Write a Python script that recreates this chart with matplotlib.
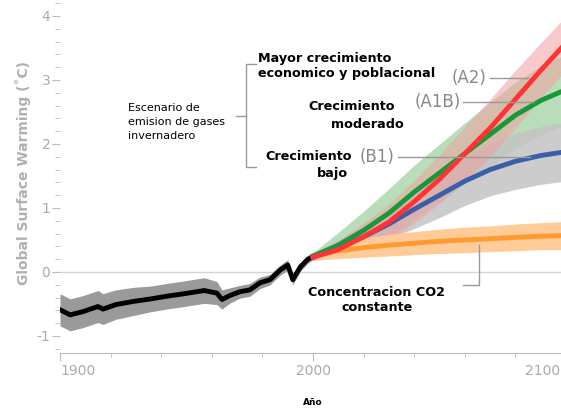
import matplotlib.pyplot as plt
from matplotlib.ticker import MultipleLocator

# observed record (black) with its spread
hist_years = [1900, 1904, 1909, 1915, 1917, 1922, 1929, 1936, 1942, 1949, 1957, 1962,
              1964, 1967, 1971, 1975, 1979, 1983, 1987, 1990, 1992, 1995, 1998, 2000]
hist_vals = [-0.59, -0.67, -0.62, -0.54, -0.58, -0.51, -0.46, -0.42, -0.38, -0.34, -0.29, -0.33,
             -0.43, -0.37, -0.31, -0.28, -0.17, -0.12, 0.03, 0.11, -0.12, 0.08, 0.20, 0.24]
hist_err = [0.25, 0.25, 0.25, 0.25, 0.24, 0.23, 0.22, 0.20, 0.20, 0.20, 0.20, 0.18,
            0.15, 0.12, 0.10, 0.10, 0.09, 0.08, 0.08, 0.08, 0.08, 0.07, 0.06, 0.05]

# scenarios 2000-2100
proj_years = [2000, 2010, 2020, 2030, 2040, 2050, 2060, 2070, 2080, 2090, 2100]
a2 = [0.23, 0.35, 0.55, 0.78, 1.10, 1.45, 1.85, 2.25, 2.70, 3.15, 3.58]
a2_err = [0.05, 0.14, 0.22, 0.28, 0.33, 0.38, 0.42, 0.45, 0.45, 0.43, 0.42]
a1b = [0.25, 0.42, 0.65, 0.92, 1.25, 1.55, 1.85, 2.15, 2.45, 2.68, 2.85]
a1b_err = [0.05, 0.20, 0.30, 0.38, 0.42, 0.45, 0.48, 0.50, 0.52, 0.54, 0.55]
b1 = [0.23, 0.38, 0.55, 0.75, 0.98, 1.20, 1.42, 1.60, 1.73, 1.82, 1.88]
b1_err = [0.05, 0.12, 0.18, 0.24, 0.30, 0.35, 0.38, 0.41, 0.44, 0.45, 0.46]
co2 = [0.25, 0.33, 0.38, 0.42, 0.45, 0.48, 0.50, 0.52, 0.54, 0.56, 0.57]
co2_err = [0.04, 0.12, 0.15, 0.17, 0.18, 0.19, 0.20, 0.20, 0.21, 0.21, 0.22]

W, H = 561, 411
fig = plt.figure(figsize=(W / 100, H / 100), dpi=100)


def fx(px):
    return px / W


def fy(py):
    return 1 - py / H


ax = fig.add_axes([fx(60), fy(353), (W - 60) / W, 353 / H])
ax.set_xlim(1900, 2098)
ax.set_ylim(-1.266, 4.25)


def band(x, y, e, **kw):
    ax.fill_between(x, [a - b for a, b in zip(y, e)], [a + b for a, b in zip(y, e)], lw=0, **kw)


ax.axhline(0, color='#d4d4d4', lw=1, zorder=0)

band(hist_years, hist_vals, hist_err, color='#9a9a9a', zorder=1)
band(proj_years, a1b, a1b_err, color='#b9dcb9', zorder=1)
band(proj_years, b1, b1_err, color='#c4c4c4', alpha=0.85, zorder=2)
band(proj_years, a2, a2_err, color='#f0a0a0', alpha=0.55, zorder=3)
band(proj_years, co2, co2_err, color='#ffcc99', zorder=3)

ax.plot(hist_years, hist_vals, color='black', lw=3.5, zorder=5)
ax.plot(proj_years, co2, color='#ff9a30', lw=3.5, zorder=5)
ax.plot(proj_years, b1, color='#3a5ea8', lw=3.5, zorder=5)
ax.plot(proj_years, a1b, color='#17993a', lw=3.5, zorder=6)
ax.plot(proj_years, a2, color='#ff3333', lw=3.5, zorder=7)

# axes styling
for s in ['left', 'top', 'right']:
    ax.spines[s].set_visible(False)
ax.spines['bottom'].set_color('#bbbbbb')
ax.spines['bottom'].set_position(('data', -1.266))
ax.set_yticks([-1, 0, 1, 2, 3, 4])
ax.set_yticklabels(['-1', '0', '1', '2', '3', '4'])
ax.yaxis.set_minor_locator(MultipleLocator(0.2))
ax.tick_params(axis='y', which='major', length=6, color='#bbbbbb', labelcolor='#aaaaaa',
               labelsize=10, pad=1)
ax.tick_params(axis='y', which='minor', length=3.5, color='#bbbbbb')
ax.set_xticks([1900, 2000])
ax.set_xticklabels(['1900', '2000'])
ax.xaxis.set_minor_locator(MultipleLocator(20))
ax.tick_params(axis='x', which='major', length=6, color='#bbbbbb', labelcolor='#aaaaaa',
               labelsize=10, pad=2)
ax.tick_params(axis='x', which='minor', length=3, color='#bbbbbb')
ax.get_xticklabels()[0].set_ha('left')
fig.text(fx(525), fy(371), '2100', color='#aaaaaa', fontsize=10, ha='left', va='center')

fig.text(fx(23), fy(173), 'Global Surface Warming (˚C)', rotation=90, color='#b0b0b0',
         fontsize=10, fontweight='bold', ha='center', va='center')
fig.text(fx(313), fy(402), 'Año', fontsize=6.5, fontweight='bold', ha='center', va='center')

# annotations
fig.text(fx(128), fy(122), 'Escenario de\nemision de gases\ninvernadero', fontsize=8,
         ha='left', va='center', linespacing=1.5)
grey = '#999999'
fig.add_artist(plt.Line2D([fx(256), fx(246), fx(246), fx(256)],
                          [fy(64), fy(64), fy(167), fy(167)], color=grey, lw=1))
fig.add_artist(plt.Line2D([fx(236), fx(246)], [fy(116), fy(116)], color=grey, lw=1))

bold = dict(fontsize=9.2, fontweight='bold', va='center')
fig.text(fx(258), fy(66), 'Mayor crecimiento\neconomico y poblacional', ha='left',
         linespacing=1.2, **bold)
fig.text(fx(352), fy(107), 'Crecimiento', ha='center', **bold)
fig.text(fx(367), fy(124), 'moderado', ha='center', **bold)
fig.text(fx(309), fy(157), 'Crecimiento', ha='center', **bold)
fig.text(fx(332), fy(174), 'bajo', ha='center', **bold)
fig.text(fx(377), fy(300), 'Concentracion CO2\nconstante', ha='center', linespacing=1.2, **bold)

lab = dict(fontsize=12, color='#888888', va='center')
fig.text(fx(469), fy(78), '(A2)', ha='center', **lab)
fig.text(fx(438), fy(102), '(A1B)', ha='center', **lab)
fig.text(fx(377), fy(157), '(B1)', ha='center', **lab)
fig.add_artist(plt.Line2D([fx(490), fx(528)], [fy(78), fy(78)], color=grey, lw=1, zorder=0.5))
fig.add_artist(plt.Line2D([fx(463), fx(533)], [fy(102), fy(102)], color=grey, lw=1, zorder=0.5))
fig.add_artist(plt.Line2D([fx(398), fx(530)], [fy(157), fy(157)], color=grey, lw=1, zorder=0.5))
fig.add_artist(plt.Line2D([fx(463), fx(479), fx(479)], [fy(285), fy(285), fy(245)],
                          color=grey, lw=1))

fig.savefig('out.png', dpi=100)
